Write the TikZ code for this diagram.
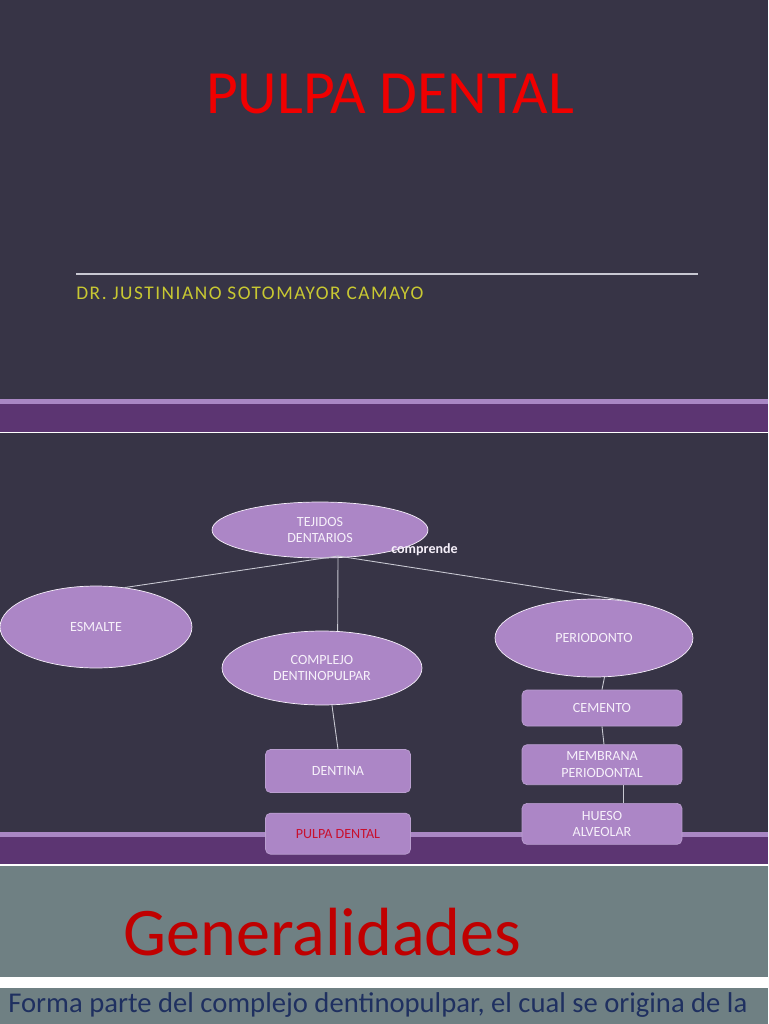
\documentclass[tikz,border=0pt]{standalone}
\usepackage{fontspec}
\setmainfont{Carlito}
\newfontfamily\spacedfont[LetterSpace=7.8]{Carlito}
\usepackage{tikz}
\usetikzlibrary{shapes.geometric,positioning,calc}
\definecolor{slate}{RGB}{55,52,70}
\definecolor{lilac}{RGB}{169,135,196}
\definecolor{plum}{RGB}{92,53,114}
\definecolor{bubblefill}{RGB}{172,134,198}
\definecolor{slidegray}{RGB}{111,128,131}
\definecolor{titlered}{RGB}{240,0,0}
\definecolor{genred}{RGB}{192,0,0}
\definecolor{pulpred}{RGB}{200,16,46}
\definecolor{navy}{RGB}{31,48,96}
\definecolor{authoryellow}{RGB}{200,200,50}
\definecolor{linkgray}{RGB}{200,200,210}
\definecolor{nodetext}{RGB}{246,240,250}

\begin{document}
\begin{tikzpicture}[x=0.02cm,y=-0.02cm,node distance=0.36cm and 0.36cm]

\tikzset{bubble/.style={shape=ellipse,fill=bubblefill,draw=nodetext,line width=0.4pt,inner sep=0pt,align=center,text=nodetext,font=\fontsize{8}{9.5}\selectfont},
box/.style={shape=rectangle,rounded corners=0.1cm,fill=bubblefill,draw=lilac!80!white,line width=0.4pt,inner sep=0pt,minimum width=3.2cm,align=center,text=nodetext,font=\fontsize{8}{9.5}\selectfont},
link/.style={draw=linkgray,line width=0.5pt},
linklabel/.style={inner sep=0pt,text=nodetext,font=\bfseries\fontsize{8}{9.5}\selectfont}}

\useasboundingbox (0,0) rectangle (768,1024);

% Slide backgrounds
\fill[slate] (0,0) rectangle (768,866);
\fill[lilac] (0,399) rectangle (768,404);
\fill[plum] (0,404) rectangle (768,432);
\fill[white] (0,432) rectangle (768,433);
\fill[lilac] (0,832) rectangle (768,837);
\fill[plum] (0,837) rectangle (768,864);
\fill[white] (0,864) rectangle (768,866);
\fill[slidegray] (0,866) rectangle (768,1024);
\fill[white] (0,977) rectangle (768,988);

% Title slide
\node[anchor=base,inner sep=0pt,text=titlered,font=\fontsize{35}{40}\selectfont] (title) at (390,113) {PULPA DENTAL};
\draw[linkgray,line width=0.6pt] (76,274) -- (698,274);
\node[anchor=base west,inner sep=0pt,text=authoryellow,font=\spacedfont\fontsize{11}{13}\selectfont] (author) at (76,299) {DR. JUSTINIANO SOTOMAYOR CAMAYO};

% Ellipses
\node[bubble,minimum width=4.32cm,minimum height=1.12cm] (tejidos) at (320,530) {TEJIDOS\\DENTARIOS};
\node[bubble,minimum width=3.84cm,minimum height=1.64cm] (esmalte) at (96,627) {ESMALTE};
\node[bubble,minimum width=4cm,minimum height=1.48cm] (complejo) at (322,668) {COMPLEJO\\DENTINOPULPAR};
\node[bubble,minimum width=3.96cm,minimum height=1.56cm] (periodonto) at (594,638) {PERIODONTO};

% Boxes
\node[box,minimum height=0.72cm] (cemento) at (602,708) {CEMENTO};
\node[box,minimum height=0.8cm] (membrana) [below=of cemento] {MEMBRANA\\PERIODONTAL};
\node[box,minimum height=0.82cm] (hueso) [below=of membrana] {HUESO\\ALVEOLAR};
\node[box,minimum width=2.9cm,minimum height=0.86cm] (dentina) at (338,771) {DENTINA};
\node[box,minimum width=2.9cm,minimum height=0.82cm,text=pulpred,below=0.4cm of dentina] (pulpa) {PULPA DENTAL};

% Edges
\coordinate (hub) at (338,556);
\draw[link] (hub) -- (esmalte.54);
\draw[link] (hub) -- (complejo.67);
\draw[link] (hub) -- (periodonto.46);
\node[linklabel,anchor=base west] (comprende) at (391,553) {comprende};
\draw[link] (complejo.-75) -- (dentina.north);
\draw[link] (periodonto.-75) -- (cemento.north);
\draw[link] (cemento.south) -- ([xshift=0.04cm]membrana.north);
\draw[link] ([xshift=0.42cm]membrana.south) -- ([xshift=0.42cm]hueso.north);

% Next slide
\node[anchor=base west,inner sep=0pt,text=genred,font=\fontsize{38.8}{44}\selectfont] (heading) at (123,955) {Generalidades};
\node[anchor=base west,inner sep=0pt,text=navy,font=\fontsize{16.3}{19}\selectfont] (bodytext) at (8,1012) {Forma parte del complejo dentinopulpar, el cual se origina de la};

\end{tikzpicture}
\end{document}
